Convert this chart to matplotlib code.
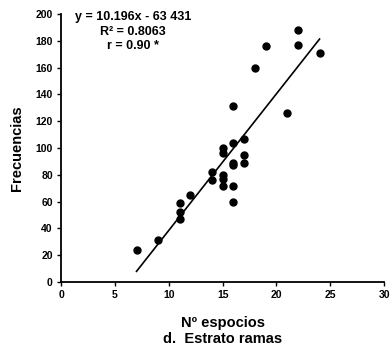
import matplotlib
matplotlib.use("Agg")
import matplotlib.pyplot as plt
import numpy as np

# --- data ---
especies = [7, 9, 11, 11, 11, 12, 14, 14, 15, 15, 15, 15, 15,
            16, 16, 16, 16, 16, 16, 17, 17, 17, 18, 19, 21, 22, 22, 24]
frecuencias = [24, 31, 59, 52, 47, 65, 82, 76, 100, 96, 80, 77, 72,
               104, 89, 87, 72, 60, 131, 107, 95, 89, 160, 176, 126, 188, 177, 171]

# fitted line given in the chart
slope = 10.196
intercept = -63.431
fit_x = [7, 24]

x_ticks = [0, 5, 10, 15, 20, 25, 30]
y_ticks = [0, 20, 40, 60, 80, 100, 120, 140, 160, 180, 200]

plt.rcParams['font.family'] = ['Liberation Sans', 'DejaVu Sans']

fig = plt.figure(figsize=(3.92, 3.49), dpi=100)
ax = fig.add_axes([0.156, 0.192, 0.824, 0.768])

ax.plot(especies, frecuencias, 'o', color='black', markersize=5)
fx = np.array(fit_x)
ax.plot(fx, slope * fx + intercept, color='black', linewidth=1.2)

ax.set_xlim(0, 30)
ax.set_ylim(0, 200)
ax.set_xticks(x_ticks)
ax.set_yticks(y_ticks)
ax.tick_params(labelsize=7.5, length=3, width=1, direction='out', pad=3)
for lbl in ax.get_xticklabels() + ax.get_yticklabels():
    lbl.set_fontweight('bold')

for side in ['top', 'right']:
    ax.spines[side].set_visible(False)
for side in ['left', 'bottom']:
    ax.spines[side].set_linewidth(1.3)

ax.set_ylabel('Frecuencias', fontsize=10.5, fontweight='bold', labelpad=8)
ax.set_xlabel('Nº espocios\nd.  Estrato ramas', fontsize=10.5,
              fontweight='bold', labelpad=11, linespacing=1.25)

ax.text(0.223, 1.01, 'y = 10.196x - 63 431\nR² = 0.8063\nr = 0.90 *',
        transform=ax.transAxes, ha='center', va='top', fontsize=9,
        fontweight='bold', linespacing=1.25)

fig.savefig('out.png', dpi=100)
